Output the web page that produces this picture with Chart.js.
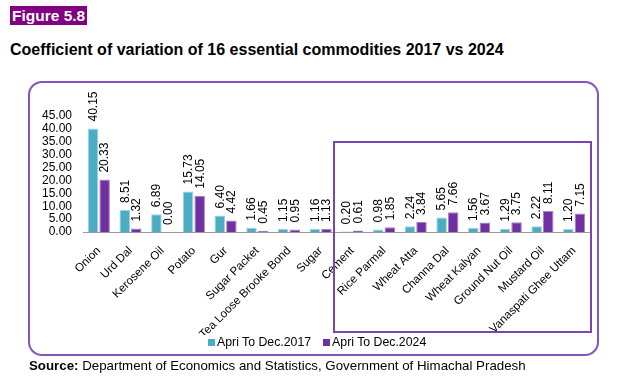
<!DOCTYPE html>
<html>
<head>
<meta charset="utf-8">
<script src="https://cdn.jsdelivr.net/npm/chart.js@4.4.1/dist/chart.umd.min.js"></script>
<style>
  html, body { margin:0; padding:0; background:#fff; }
  body { width:624px; height:384px; position:relative; overflow:hidden; font-family:"Liberation Sans", Arial, sans-serif; }
  #fig { position:absolute; left:10px; top:6px; height:19px; line-height:19px; padding:0 2px; background:#800080; color:#fff; font-weight:bold; font-size:15.5px; }
  #title { position:absolute; left:10px; top:41px; font-weight:bold; font-size:16px; color:#000; white-space:nowrap; }
  #frame { position:absolute; left:28px; top:81px; width:567px; height:271px; border:2px solid #8553BD; border-radius:14px; }
  #inner { position:absolute; left:333px; top:141px; width:255px; height:188px; border:2px solid #7A44B2; pointer-events:none; }
  #chartwrap { position:absolute; left:28px; top:81px; width:570px; height:254px; }
  #legend { position:absolute; left:208px; top:334px; line-height:16px; font-size:12.3px; color:#000; white-space:nowrap; }
  #legend span.sw { display:inline-block; width:7px; height:7px; margin-right:2px; vertical-align:0px; }
  #legend span.item { margin-right:12px; }
  #source { position:absolute; left:29px; top:358px; font-size:13.3px; color:#000; white-space:nowrap; }
</style>
</head>
<body>
<div id="fig">Figure 5.8</div>
<div id="title">Coefficient of variation of 16 essential commodities 2017 vs 2024</div>
<div id="frame"></div>
<div id="chartwrap"><canvas id="c" width="570" height="254"></canvas></div>
<div id="inner"></div>
<div id="legend"><span class="item"><span class="sw" style="background:#4BACC6"></span>Apri To Dec.2017</span><span class="item"><span class="sw" style="background:#7030A0"></span>Apri To Dec.2024</span></div>
<div id="source"><b>Source:</b> Department of Economics and Statistics, Government of Himachal Pradesh</div>
<script>
const categories = ["Onion","Urd Dal","Kerosene Oil","Potato","Gur","Sugar Packet","Tea Loose Brooke Bond","Sugar","Cement","Rice Parmal","Wheat Atta","Channa Dal","Wheat Kalyan","Ground Nut Oil","Mustard Oil","Vanaspati Ghee Uttam"];
const series2017 = [40.15, 8.51, 6.89, 15.73, 6.40, 1.66, 1.15, 1.16, 0.20, 0.98, 2.24, 5.65, 1.56, 1.29, 2.22, 1.20];
const series2024 = [20.33, 1.32, 0.00, 14.05, 4.42, 0.45, 0.95, 1.13, 0.61, 1.85, 3.84, 7.66, 3.67, 3.75, 8.11, 7.15];
const seriesNames = ["Apri To Dec.2017", "Apri To Dec.2024"];
const yTicks = [0, 5, 10, 15, 20, 25, 30, 35, 40, 45];

const FONT = '"Liberation Sans", Arial, sans-serif';

const valueLabels = {
  id: 'valueLabels',
  afterDatasetsDraw(chart) {
    const ctx = chart.ctx;
    ctx.save();
    ctx.font = '12px ' + FONT;
    ctx.fillStyle = '#000';
    ctx.textAlign = 'left';
    ctx.textBaseline = 'middle';
    chart.data.datasets.forEach((ds, di) => {
      const meta = chart.getDatasetMeta(di);
      meta.data.forEach((bar, i) => {
        ctx.save();
        ctx.translate(bar.x + 0.5, bar.y - 7);
        ctx.rotate(-Math.PI / 2);
        ctx.fillText(ds.data[i].toFixed(2), 0, 0);
        ctx.restore();
      });
    });
    ctx.restore();
  }
};

new Chart(document.getElementById('c'), {
  type: 'bar',
  data: {
    labels: categories,
    datasets: [
      { label: seriesNames[0], data: series2017, backgroundColor: '#4BACC6', borderColor: '#9ED3E2', borderWidth: 1, barPercentage: 0.91, categoryPercentage: 0.73 },
      { label: seriesNames[1], data: series2024, backgroundColor: '#7030A0', borderColor: '#A784C6', borderWidth: 1, barPercentage: 0.91, categoryPercentage: 0.73 }
    ]
  },
  options: {
    responsive: false,
    devicePixelRatio: 1,
    animation: false,
    layout: { padding: { top: 35, left: 0, right: 8, bottom: 0 } },
    plugins: { legend: { display: false }, tooltip: { enabled: false } },
    scales: {
      x: {
        grid: { display: false },
        border: { display: true, color: '#9a9a9a', width: 1 },
        ticks: { color: '#000', font: { family: FONT, size: 11.6 }, padding: 4, minRotation: 45, maxRotation: 45, autoSkip: false },
        afterFit(scale) { scale.height = 103; }
      },
      y: {
        min: 0, max: 45,
        grid: { display: false },
        border: { display: false },
        afterBuildTicks(scale) { scale.ticks = yTicks.map(v => ({ value: v })); },
        ticks: { color: '#000', font: { family: FONT, size: 12 }, autoSkip: false, callback: v => Number(v).toFixed(2) },
        afterFit(scale) { scale.width = 55; }
      }
    }
  },
  plugins: [valueLabels]
});
</script>
</body>
</html>
